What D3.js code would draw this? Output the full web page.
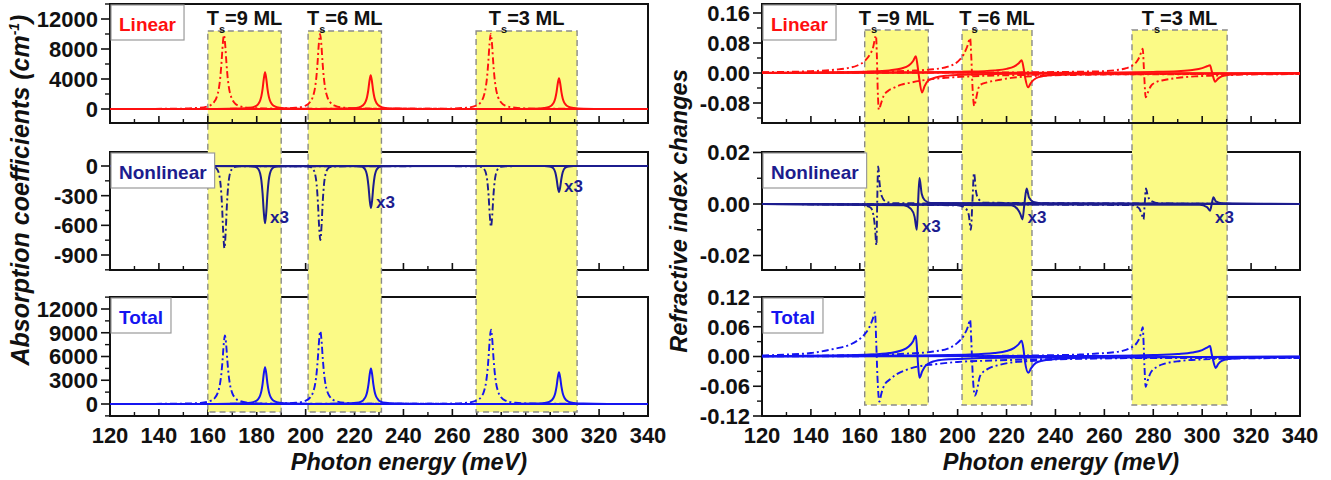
<!DOCTYPE html>
<html>
<head>
<meta charset="utf-8">
<script src="https://cdn.jsdelivr.net/npm/d3@7"></script>
<style>
  body { margin: 0; background: #fff; }
  svg { display: block; }
  text { font-family: "Liberation Sans", Arial, sans-serif; font-weight: bold; }
</style>
</head>
<body>
<svg id="fig" width="1331" height="480"></svg>
<script>
// ---------- axis ticks ----------
const energyTicks = [120, 140, 160, 180, 200, 220, 240, 260, 280, 300, 320, 340];
const absLinearTicks = [0, 4000, 8000, 12000];
const absNonlinearTicks = [-900, -600, -300, 0];
const absTotalTicks = [0, 3000, 6000, 9000, 12000];
const rixLinearTicks = [-0.08, 0, 0.08, 0.16];
const rixNonlinearTicks = [-0.02, 0, 0.02];
const rixTotalTicks = [-0.12, -0.06, 0, 0.06, 0.12];

// ---------- shaded windows (meV) and well labels ----------
const shadeLeft = [[160, 190], [201, 231], [269.7, 311]];
const shadeRight = [[162, 188], [201.8, 230.4], [271.3, 310.2]];
const wellLabels = ["9", "6", "3"];

// ---------- absorption coefficients (cm^-1) vs photon energy (meV) ----------
// each array holds the Ts = 9, 6, 3 ML curves
const absLinearDash = [
  [[120,0],[146.6,41],[156.6,164],[160.6,442],[162.6,941],[163.6,1556],[164.6,2925],[165.1,4226],[165.6,6186],[166.1,8579],[166.6,9850],[167.1,8579],[167.6,6186],[168.1,4226],[168.6,2925],[169.6,1556],[170.6,941],[172.6,442],[176.6,164],[186.6,41],[340,0]],
  [[120,0],[185.9,42],[195.9,166],[199.9,449],[201.9,955],[202.9,1580],[203.9,2970],[204.4,4290],[204.9,6280],[205.4,8710],[205.9,10000],[206.4,8710],[206.9,6280],[207.4,4290],[207.9,2970],[208.9,1580],[209.9,955],[211.9,449],[215.9,166],[225.9,42],[340,0]],
  [[120,0],[255.7,42],[265.7,166],[269.7,449],[271.7,955],[272.7,1580],[273.7,2970],[274.2,4290],[274.7,6280],[275.2,8710],[275.7,10000],[276.2,8710],[276.7,6280],[277.2,4290],[277.7,2970],[278.7,1580],[279.7,955],[281.7,449],[285.7,166],[295.7,42],[340,0]]
];
const absLinearSolid = [
  [[120,0],[163.4,15],[173.4,59],[177.4,159],[179.4,343],[180.4,581],[181.4,1137],[181.9,1715],[182.4,2685],[182.9,4062],[183.4,4900],[183.9,4062],[184.4,2685],[184.9,1715],[185.4,1137],[186.4,581],[187.4,343],[189.4,159],[193.4,59],[203.4,15],[340,0]],
  [[120,0],[206.6,14],[216.6,54],[220.6,146],[222.6,315],[223.6,533],[224.6,1044],[225.1,1575],[225.6,2466],[226.1,3731],[226.6,4500],[227.1,3731],[227.6,2466],[228.1,1575],[228.6,1044],[229.6,533],[230.6,315],[232.6,146],[236.6,54],[246.6,14],[340,0]],
  [[120,0],[283.6,12],[293.6,49],[297.6,133],[299.6,287],[300.6,486],[301.6,951],[302.1,1435],[302.6,2247],[303.1,3399],[303.6,4100],[304.1,3399],[304.6,2247],[305.1,1435],[305.6,951],[306.6,486],[307.6,287],[309.6,133],[313.6,49],[323.6,12],[340,0]]
];
const absNonlinearDash = [
  [[120,0],[160.8,-3],[162.8,-12],[163.8,-33],[164.8,-108],[165.3,-208],[165.8,-398],[166.3,-672],[166.8,-830],[167.3,-672],[167.8,-398],[168.3,-208],[168.8,-108],[169.8,-33],[170.8,-12],[172.8,-3],[340,0]],
  [[120,0],[200,-3],[202,-11],[203,-30],[204,-98],[204.5,-188],[205,-359],[205.5,-608],[206,-750],[206.5,-608],[207,-359],[207.5,-188],[208,-98],[209,-30],[210,-11],[212,-3],[340,0]],
  [[120,0],[269.8,-2],[271.8,-9],[272.8,-25],[273.8,-80],[274.3,-154],[274.8,-295],[275.3,-498],[275.8,-615],[276.3,-498],[276.8,-295],[277.3,-154],[277.8,-80],[278.8,-25],[279.8,-9],[281.8,-2],[340,0]]
];
// solid nonlinear curves are shown multiplied by 3
const absNonlinearSolid = [
  [[120,0],[177.4,-2],[179.4,-9],[180.4,-23],[181.4,-75],[181.9,-145],[182.4,-278],[182.9,-470],[183.4,-580],[183.9,-470],[184.4,-278],[184.9,-145],[185.4,-75],[186.4,-23],[187.4,-9],[189.4,-2],[340,0]],
  [[120,0],[220.7,-1],[222.7,-6],[223.7,-17],[224.7,-55],[225.2,-106],[225.7,-204],[226.2,-344],[226.7,-425],[227.2,-344],[227.7,-204],[228.2,-106],[228.7,-55],[229.7,-17],[230.7,-6],[232.7,-1],[340,0]],
  [[120,0],[297.6,-1],[299.6,-4],[300.6,-10],[301.6,-34],[302.1,-66],[302.6,-126],[303.1,-212],[303.6,-262],[304.1,-212],[304.6,-126],[305.1,-66],[305.6,-34],[306.6,-10],[307.6,-4],[309.6,-1],[340,0]]
];
const absTotalDash = [
  [[120,0],[147,36],[157,144],[161,388],[163,826],[164,1367],[165,2569],[165.5,3711],[166,5432],[166.5,7534],[167,8650],[167.5,7534],[168,5432],[168.5,3711],[169,2569],[170,1367],[171,826],[173,388],[177,144],[187,36],[340,0]],
  [[120,0],[186,39],[196,153],[200,413],[202,879],[203,1454],[204,2732],[204.5,3947],[205,5778],[205.5,8013],[206,9200],[206.5,8013],[207,5778],[207.5,3947],[208,2732],[209,1454],[210,879],[212,413],[216,153],[226,39],[340,0]],
  [[120,0],[255.8,39],[265.8,156],[269.8,422],[271.8,898],[272.8,1485],[273.8,2792],[274.3,4033],[274.8,5903],[275.3,8187],[275.8,9400],[276.3,8187],[276.8,5903],[277.3,4033],[277.8,2792],[278.8,1485],[279.8,898],[281.8,422],[285.8,156],[295.8,39],[340,0]]
];
const absTotalSolid = [
  [[120,0],[163.4,14],[173.4,56],[177.4,151],[179.4,326],[180.4,551],[181.4,1079],[181.9,1628],[182.4,2548],[182.9,3855],[183.4,4650],[183.9,3855],[184.4,2548],[184.9,1628],[185.4,1079],[186.4,551],[187.4,326],[189.4,151],[193.4,56],[203.4,14],[340,0]],
  [[120,0],[206.7,14],[216.7,54],[220.7,146],[222.7,315],[223.7,533],[224.7,1044],[225.2,1575],[225.7,2466],[226.2,3731],[226.7,4500],[227.2,3731],[227.7,2466],[228.2,1575],[228.7,1044],[229.7,533],[230.7,315],[232.7,146],[236.7,54],[246.7,14],[340,0]],
  [[120,0],[283.6,12],[293.6,48],[297.6,130],[299.6,280],[300.6,474],[301.6,928],[302.1,1400],[302.6,2192],[303.1,3316],[303.6,4000],[304.1,3316],[304.6,2192],[305.1,1400],[305.6,928],[306.6,474],[307.6,280],[309.6,130],[313.6,48],[323.6,12],[340,0]]
];

// ---------- refractive index changes vs photon energy (meV) ----------
const rixLinearDash = [
  [[120,0.002],[140,0.005],[150,0.009],[155,0.013],[159,0.02],[162,0.032],[164,0.048],[165.5,0.07],[166.3,0.095],[166.6,0.1],[167.0,0.04],[167.3,-0.04],[167.8,-0.098],[168.5,-0.085],[169.6,-0.063],[171.5,-0.048],[173.7,-0.04],[177,-0.031],[180.5,-0.026],[187.4,-0.018],[195,-0.013],[205,-0.009],[220,-0.006],[250,-0.004],[300,-0.003],[340,-0.002]],
  [[120,0.001],[160,0.003],[180,0.006],[190,0.01],[196,0.017],[200,0.03],[202.5,0.05],[204,0.072],[205.1,0.093],[205.6,0.04],[206.1,-0.04],[206.8,-0.088],[207.5,-0.07],[208.3,-0.045],[209.2,-0.032],[212,-0.025],[217.4,-0.018],[222,-0.013],[227,-0.01],[235,-0.007],[250,-0.005],[280,-0.003],[340,-0.002]],
  [[120,0.0005],[200,0.001],[230,0.002],[250,0.0035],[260,0.005],[265,0.008],[269,0.013],[271.5,0.02],[273.2,0.03],[274.5,0.045],[275.4,0.062],[275.7,0.065],[276.1,0.02],[276.4,-0.02],[276.9,-0.065],[277.6,-0.055],[279,-0.035],[281,-0.025],[285,-0.018],[290,-0.013],[297,-0.009],[305,-0.007],[320,-0.004],[340,-0.003]]
];
const rixLinearSolid = [
  [[120,0.0005],[150,0.002],[165,0.004],[172,0.007],[177,0.012],[180,0.02],[181.8,0.032],[182.9,0.045],[183.6,0.02],[184.2,-0.01],[185.4,-0.052],[186.5,-0.035],[188,-0.02],[191,-0.012],[196,-0.007],[205,-0.004],[230,-0.002],[340,-0.0005]],
  [[120,0.0003],[180,0.002],[205,0.004],[215,0.007],[220,0.011],[223,0.017],[225,0.026],[226.2,0.034],[227,0.012],[227.6,-0.012],[228.8,-0.038],[230,-0.026],[232,-0.014],[235,-0.008],[240,-0.005],[255,-0.002],[340,-0.0005]],
  [[120,0.0002],[250,0.001],[280,0.003],[290,0.005],[296,0.008],[300,0.013],[302,0.018],[303.2,0.021],[303.9,0.005],[304.4,-0.008],[305.3,-0.023],[306.5,-0.015],[308,-0.009],[311,-0.005],[316,-0.003],[330,-0.001],[340,-0.0005]]
];
const rixNonlinearDash = [
  [[120,0],[160,-0.0003],[163,-0.0008],[164.5,-0.0015],[165.5,-0.004],[166.2,-0.009],[166.8,-0.016],[167.1,0],[167.5,0.0146],[168.1,0.008],[169,0.003],[170.5,0.001],[174,0.0003],[340,0]],
  [[120,0],[200,-0.0005],[203,-0.0015],[204.5,-0.004],[205.4,-0.01],[206.0,0],[206.7,0.012],[207.5,0.005],[208.5,0.002],[211,0.0005],[340,0]],
  [[120,0],[271,-0.0004],[274,-0.0015],[275.3,-0.004],[276,-0.006],[276.5,0],[277,0.006],[277.8,0.003],[279.5,0.001],[283,0.0002],[340,0]]
];
// solid nonlinear curves are shown multiplied by 3
const rixNonlinearSolid = [
  [[120,0],[178,-0.0005],[181,-0.002],[182.4,-0.005],[183.3,-0.01],[183.8,0],[184.4,0.0101],[185.3,0.004],[186.5,0.0015],[189,0.0004],[340,0]],
  [[120,0],[222,-0.0005],[224.5,-0.002],[225.7,-0.004],[226.5,-0.006],[227.3,0],[228.2,0.006],[229.2,0.0025],[231,0.0008],[235,0.0002],[340,0]],
  [[120,0],[299,-0.0003],[302,-0.0012],[303.2,-0.0026],[303.9,0],[304.6,0.0026],[305.6,0.001],[308,0.0003],[340,0]]
];
const rixTotalDash = [
  [[120,0.002],[130,0.004],[140,0.007],[150,0.016],[155,0.022],[159,0.032],[162,0.045],[164,0.06],[165.3,0.076],[166.2,0.089],[166.7,0.03],[167.2,-0.04],[168,-0.091],[168.8,-0.075],[170,-0.058],[172.4,-0.046],[175,-0.036],[179,-0.027],[184,-0.02],[190,-0.016],[200,-0.011],[215,-0.008],[240,-0.005],[280,-0.003],[340,-0.002]],
  [[120,0.001],[160,0.003],[180,0.006],[190,0.01],[196,0.016],[200,0.028],[202.5,0.042],[204.2,0.06],[205.1,0.074],[205.6,0.03],[206.1,-0.03],[207.1,-0.079],[207.8,-0.07],[209.2,-0.039],[212,-0.026],[217,-0.017],[222,-0.012],[230,-0.009],[245,-0.005],[270,-0.003],[340,-0.002]],
  [[120,0.0005],[200,0.001],[230,0.002],[250,0.004],[257,0.006],[263,0.008],[267,0.011],[270.5,0.017],[273.2,0.027],[274.6,0.04],[275.4,0.055],[275.7,0.059],[276.1,0.02],[276.4,-0.02],[276.9,-0.061],[277.6,-0.05],[279,-0.032],[281.5,-0.021],[285,-0.014],[291,-0.009],[300,-0.006],[315,-0.004],[340,-0.003]]
];
const rixTotalSolid = [
  [[120,0.001],[150,0.002],[165,0.004],[172,0.007],[177,0.012],[180,0.02],[181.8,0.031],[182.9,0.042],[183.4,0.015],[183.8,-0.015],[184.4,-0.043],[185.5,-0.03],[187,-0.018],[190,-0.01],[195,-0.006],[205,-0.004],[230,-0.002],[340,-0.0005]],
  [[120,0.0003],[180,0.002],[205,0.004],[215,0.007],[220,0.011],[223,0.017],[225,0.025],[226.2,0.032],[227,0.012],[227.6,-0.012],[228.9,-0.033],[230,-0.024],[232,-0.013],[235,-0.008],[240,-0.005],[255,-0.002],[340,-0.0005]],
  [[120,0.0002],[250,0.001],[280,0.003],[290,0.005],[296,0.008],[300,0.013],[302,0.018],[303.2,0.021],[303.9,0.005],[304.5,-0.008],[305.5,-0.023],[306.6,-0.015],[308,-0.009],[311,-0.005],[316,-0.003],[330,-0.001],[340,-0.0005]]
];

// ---------- styling ----------
const RED = "#ff1010", NAVY = "#1c1c8e", BLUE = "#1515f0";
const SHADE = "#fbfa86";

const loc = d3.formatLocale({decimal: ".", thousands: "", grouping: [3], currency: ["", ""], minus: "-"});
const fInt = loc.format("d");
const f2 = loc.format(".2f");

const svg = d3.select("#fig");
const defs = svg.append("defs");

const rowBox = [{top: 4, bottom: 123}, {top: 152, bottom: 270}, {top: 297, bottom: 416}];

const panels = [
  {
    x: d3.scaleLinear().domain([120, 340]).range([110, 648]),
    shade: shadeLeft, shadeTop: 31, shadeBottom: 412,
    rows: [
      {y: d3.scaleLinear().domain([0, 12000]).range([109, 19]), ticks: absLinearTicks, minor: 2000, fmt: fInt,
       color: RED, name: "Linear", dash: absLinearDash, solid: absLinearSolid},
      {y: d3.scaleLinear().domain([0, -900]).range([166, 255]), ticks: absNonlinearTicks, minor: 150, fmt: fInt,
       color: NAVY, name: "Nonlinear", dash: absNonlinearDash, solid: absNonlinearSolid, x3: "left"},
      {y: d3.scaleLinear().domain([0, 12000]).range([404, 309]), ticks: absTotalTicks, minor: 1500, fmt: fInt,
       color: BLUE, name: "Total", dash: absTotalDash, solid: absTotalSolid}
    ]
  },
  {
    x: d3.scaleLinear().domain([120, 340]).range([762, 1300]),
    shade: shadeRight, shadeTop: 30, shadeBottom: 405,
    rows: [
      {y: d3.scaleLinear().domain([0, 0.16]).range([73, 13]), ticks: rixLinearTicks, minor: 0.04, fmt: f2,
       color: RED, name: "Linear", dash: rixLinearDash, solid: rixLinearSolid},
      {y: d3.scaleLinear().domain([0, 0.02]).range([204, 152.5]), ticks: rixNonlinearTicks, minor: 0.01, fmt: f2,
       color: NAVY, name: "Nonlinear", dash: rixNonlinearDash, solid: rixNonlinearSolid, x3: "right"},
      {y: d3.scaleLinear().domain([0, 0.12]).range([356.5, 297]), ticks: rixTotalTicks, minor: 0.03, fmt: f2,
       color: BLUE, name: "Total", dash: rixTotalDash, solid: rixTotalSolid}
    ]
  }
];

const energyMinor = energyTicks.slice(0, -1).map(v => v + 10);

function minorValues(y, step, top, bottom, majors) {
  const lo = y.invert(bottom), hi = y.invert(top);
  const out = [];
  for (let k = Math.ceil(lo / step - 1e-6); k * step <= hi + 1e-9; k++) {
    const v = +(k * step).toFixed(6);
    if (!majors.some(m => Math.abs(m - v) < step * 1e-3)) out.push(v);
  }
  return out;
}

// frame with ticks for one subplot
function drawFrame(g, x, row, box, showXLabels) {
  const [x0, x1] = x.range();
  const fg = g.append("g");
  fg.append("rect").attr("x", x0).attr("y", box.top).attr("width", x1 - x0).attr("height", box.bottom - box.top)
    .attr("fill", "none").attr("stroke", "#111").attr("stroke-width", 2);
  // x ticks point inward
  fg.selectAll(null).data(energyTicks).join("line")
    .attr("x1", d => x(d)).attr("x2", d => x(d)).attr("y1", box.bottom).attr("y2", box.bottom - 7)
    .attr("stroke", "#111").attr("stroke-width", 1.6);
  fg.selectAll(null).data(energyMinor).join("line")
    .attr("x1", d => x(d)).attr("x2", d => x(d)).attr("y1", box.bottom).attr("y2", box.bottom - 4)
    .attr("stroke", "#111").attr("stroke-width", 1.4);
  // y ticks point outward
  fg.selectAll(null).data(row.ticks).join("line")
    .attr("x1", x0).attr("x2", x0 - 9).attr("y1", d => row.y(d)).attr("y2", d => row.y(d))
    .attr("stroke", "#111").attr("stroke-width", 1.6);
  fg.selectAll(null).data(minorValues(row.y, row.minor, box.top, box.bottom, row.ticks)).join("line")
    .attr("x1", x0).attr("x2", x0 - 5).attr("y1", d => row.y(d)).attr("y2", d => row.y(d))
    .attr("stroke", "#111").attr("stroke-width", 1.4);
  fg.selectAll(null).data(row.ticks).join("text")
    .attr("x", x0 - 12).attr("y", d => row.y(d)).attr("dy", "0.36em")
    .attr("text-anchor", "end").attr("font-size", 22).attr("fill", "#111")
    .text(d => row.fmt(d));
  if (showXLabels) {
    fg.selectAll(null).data(energyTicks).join("text")
      .attr("x", d => x(d)).attr("y", 443).attr("text-anchor", "middle")
      .attr("font-size", 22).attr("fill", "#111").text(d => d);
  }
  return fg;
}

const layerUnder = svg.append("g");
const layerShade = svg.append("g");
const layerOver = svg.append("g");
const layerCurves = svg.append("g");
const layerText = svg.append("g");

panels.forEach((p, pi) => {
  const x = p.x;
  const [x0, x1] = x.range();

  p.rows.forEach((row, ri) => {
    const box = rowBox[ri];
    // the top subplot frame sits above the shaded windows
    drawFrame(ri === 0 ? layerOver : layerUnder, x, row, box, ri === 2);

    const cid = `clip-${pi}-${ri}`;
    defs.append("clipPath").attr("id", cid).append("rect")
      .attr("x", x0).attr("y", box.top).attr("width", x1 - x0).attr("height", box.bottom - box.top);

    const line = d3.line().x(d => x(d[0])).y(d => row.y(d[1])).curve(d3.curveMonotoneX);
    const cg = layerCurves.append("g").attr("clip-path", `url(#${cid})`);
    cg.selectAll(null).data(row.dash).join("path")
      .attr("d", line).attr("fill", "none").attr("stroke", row.color)
      .attr("stroke-width", 1.9).attr("stroke-dasharray", "7,3,2,3");
    cg.selectAll(null).data(row.solid).join("path")
      .attr("d", line).attr("fill", "none").attr("stroke", row.color).attr("stroke-width", 2);

    // legend box
    const lt = layerText.append("text")
      .attr("x", x0 + 9).attr("y", box.top + 27).attr("font-size", 19).attr("fill", row.color).text(row.name);
    const bw = lt.node().getComputedTextLength();
    layerText.insert("rect", "text")
      .attr("x", x0 + 1).attr("y", box.top + 1).attr("width", bw + 16).attr("height", 35)
      .attr("fill", "#fff").attr("stroke", "#9a9a9a").attr("stroke-width", 1.2);

    // "x3" marks next to the scaled solid curves
    if (row.x3) {
      row.solid.forEach(curve => {
        const m = curve.reduce((a, b) => (b[1] < a[1] ? b : a));
        const ty = row.x3 === "left" ? row.y(m[1]) : Math.max(row.y(m[1]) + 2, row.y(0) + 19);
        layerText.append("text").attr("x", x(m[0]) + 5).attr("y", ty)
          .attr("font-size", 17).attr("fill", NAVY).text("x3");
      });
    }
  });

  // shaded energy windows
  layerShade.selectAll(null).data(p.shade).join("rect")
    .attr("x", d => x(d[0])).attr("width", d => x(d[1]) - x(d[0]))
    .attr("y", p.shadeTop).attr("height", p.shadeBottom - p.shadeTop)
    .attr("fill", SHADE).attr("stroke", "#8a8a8a").attr("stroke-width", 1.4).attr("stroke-dasharray", "6,4");

  // T_s labels above each window
  p.shade.forEach((d, i) => {
    const t = layerText.append("text")
      .attr("x", x((d[0] + d[1]) / 2)).attr("y", 25).attr("text-anchor", "middle")
      .attr("font-size", 20).attr("fill", "#111");
    t.append("tspan").text("T");
    t.append("tspan").attr("font-size", 11).attr("dy", 8).text("s");
    t.append("tspan").attr("dy", -8).text(`=${wellLabels[i]} ML`);
  });

  // x axis title
  layerText.append("text")
    .attr("x", (x0 + x1) / 2 + 30).attr("y", 470).attr("text-anchor", "middle")
    .attr("font-size", 23.5).attr("font-style", "italic").attr("fill", "#111")
    .text("Photon energy (meV)");
});

// y axis titles
const yl = layerText.append("text")
  .attr("transform", "translate(29,190) rotate(-90)").attr("text-anchor", "middle")
  .attr("font-size", 25).attr("font-style", "italic").attr("fill", "#111");
yl.append("tspan").text("Absorption coefficients (cm");
yl.append("tspan").attr("font-size", 14).attr("dy", -10).text("-1");
yl.append("tspan").attr("dy", 10).text(")");

layerText.append("text")
  .attr("transform", "translate(687,211) rotate(-90)").attr("text-anchor", "middle")
  .attr("font-size", 23.5).attr("font-style", "italic").attr("fill", "#111")
  .text("Refractive index changes");
</script>
</body>
</html>
